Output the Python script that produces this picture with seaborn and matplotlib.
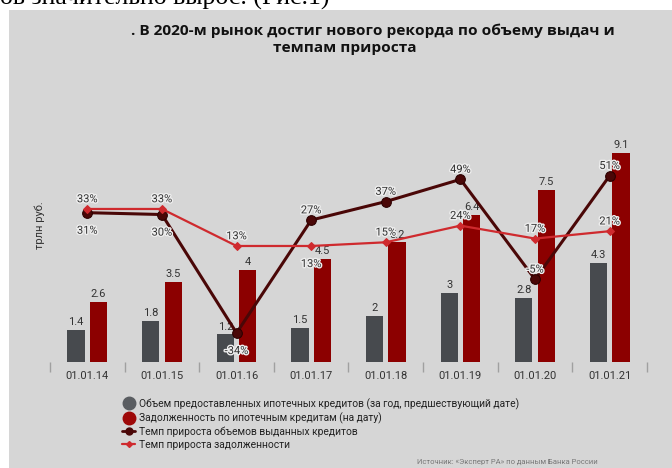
import matplotlib
matplotlib.use("Agg")
import matplotlib.pyplot as plt
import matplotlib.patheffects as pe
from matplotlib.lines import Line2D
from matplotlib.patches import Rectangle
import numpy as np
import pandas as pd
import seaborn as sns

# data
dates = ["01.01.14", "01.01.15", "01.01.16", "01.01.17",
         "01.01.18", "01.01.19", "01.01.20", "01.01.21"]
issued = [1.4, 1.8, 1.2, 1.5, 2, 3, 2.8, 4.3]          # трлн руб.
debt = [2.6, 3.5, 4, 4.5, 5.2, 6.4, 7.5, 9.1]          # трлн руб.
issued_growth = [31, 30, -34, 27, 37, 49, -5, 51]      # %
debt_growth = [33, 33, 13, 13, 15, 24, 17, 21]         # %

series_names = [
    "Объем предоставленных ипотечных кредитов (за год, предшествующий дате)",
    "Задолженность по ипотечным кредитам (на дату)",
    "Темп прироста объемов выданных кредитов",
    "Темп прироста задолженности",
]

GRAY = "#474a4e"
RED = "#8c0000"
DARK = "#4a0707"
LRED = "#cf2a2e"
BG = "#d6d6d6"
TXT = "#333333"

sns.set_theme(style="white")
plt.rcParams["font.family"] = ["Roboto", "DejaVu Sans"]

fig = plt.figure(figsize=(6.72, 4.68), dpi=100, facecolor="white")
fig.patches.append(Rectangle((9 / 672, 0), 1, 1 - 10 / 468, transform=fig.transFigure,
                             facecolor=BG, edgecolor="none", zorder=-5))

ax = fig.add_axes([50 / 672, 1 - 362 / 468, 597 / 672, 230 / 468])
ax.set_facecolor("none")

bars = pd.DataFrame({
    "date": dates * 2,
    "value": issued + debt,
    "series": [series_names[0]] * len(dates) + [series_names[1]] * len(dates),
})
sns.barplot(data=bars, x="date", y="value", hue="series", palette=[GRAY, RED],
            width=0.6, gap=0.23, saturation=1, legend=False, linewidth=0, ax=ax)
for cont, vals in zip(ax.containers, [issued, debt]):
    ax.bar_label(cont, labels=[f"{v:g}" for v in vals], padding=2, fontsize=8, color=TXT)

ax.set_xlim(-0.5, len(dates) - 0.5)
ax.set_ylim(0, 10)
ax.set_xlabel("")
ax.set_ylabel("")
ax.set_yticks([])
ax.set_xticks(np.arange(-0.5, len(dates), 1), minor=True)
ax.tick_params(axis="x", which="major", length=0, pad=6.5, labelsize=8, labelcolor=TXT)
ax.tick_params(axis="x", which="minor", length=7, width=1, color="#a0a0a0", bottom=True)
sns.despine(ax=ax, left=True, bottom=True)

# growth rates on a hidden second scale
ax2 = ax.twinx()
ax2.set_facecolor("none")
pos = np.arange(len(dates))
sns.lineplot(x=pos, y=issued_growth, ax=ax2, color=DARK, lw=2.2, marker="o",
             markersize=7, markeredgecolor="#2a0000")
sns.lineplot(x=pos, y=debt_growth, ax=ax2, color=LRED, lw=1.6, marker="D",
             markersize=4, markeredgecolor=LRED)
ax2.set_ylim(-49.7, 74.6)
ax2.set_yticks([])
ax2.set_ylabel("")
sns.despine(ax=ax2, left=True, bottom=True, right=True)

halo = [pe.withStroke(linewidth=2, foreground="#eeeeee")]
below_dark = {0, 1, 2}
below_red = {3}
for i, v in enumerate(issued_growth):
    ax2.annotate(f"{v}%", (i, v), xytext=(0, -13 if i in below_dark else 7),
                 textcoords="offset points", ha="center", va="center",
                 fontsize=8, color=TXT, path_effects=halo)
for i, v in enumerate(debt_growth):
    ax2.annotate(f"{v}%", (i, v), xytext=(0, -13 if i in below_red else 7),
                 textcoords="offset points", ha="center", va="center",
                 fontsize=8, color=TXT, path_effects=halo)

# texts around the chart
fig.text(0, 1 - 5 / 468, "ов значительно вырос. (Рис.1)", fontsize=18.5,
         family="Liberation Serif", color="black", va="baseline")
fig.text(131 / 672, 1 - 31 / 468, ". В 2020-м рынок достиг нового рекорда по объему выдач и",
         fontsize=11.1, weight="bold", family=["Open Sans", "DejaVu Sans"],
         color="#111111", va="center", ha="left")
fig.text(345 / 672, 1 - 48 / 468, "темпам прироста",
         fontsize=11.1, weight="bold", family=["Open Sans", "DejaVu Sans"],
         color="#111111", va="center", ha="center")
fig.text(40 / 672, 1 - 225 / 468, "трлн руб.", rotation=90, fontsize=8,
         color=TXT, ha="center", va="center")

handles = [
    Line2D([], [], ls="", marker="o", ms=9, color="#5a5d61"),
    Line2D([], [], ls="", marker="o", ms=9, color="#9e0808"),
    Line2D([], [], color=DARK, lw=2, marker="o", ms=5),
    Line2D([], [], color=LRED, lw=1.6, marker="D", ms=3),
]
fig.legend(handles, series_names, loc="upper left",
           bbox_to_anchor=(122 / 672, 1 - 398 / 468), frameon=False, fontsize=7.4,
           handlelength=1.3, handletextpad=0.4, labelspacing=0.27,
           borderaxespad=0, borderpad=0, labelcolor="#222222")
fig.text(598 / 672, 1 - 462 / 468, "Источник: «Эксперт РА» по данным Банка России",
         fontsize=5.5, color="#777777", ha="right", va="center")

fig.savefig("out.png", dpi=100)
